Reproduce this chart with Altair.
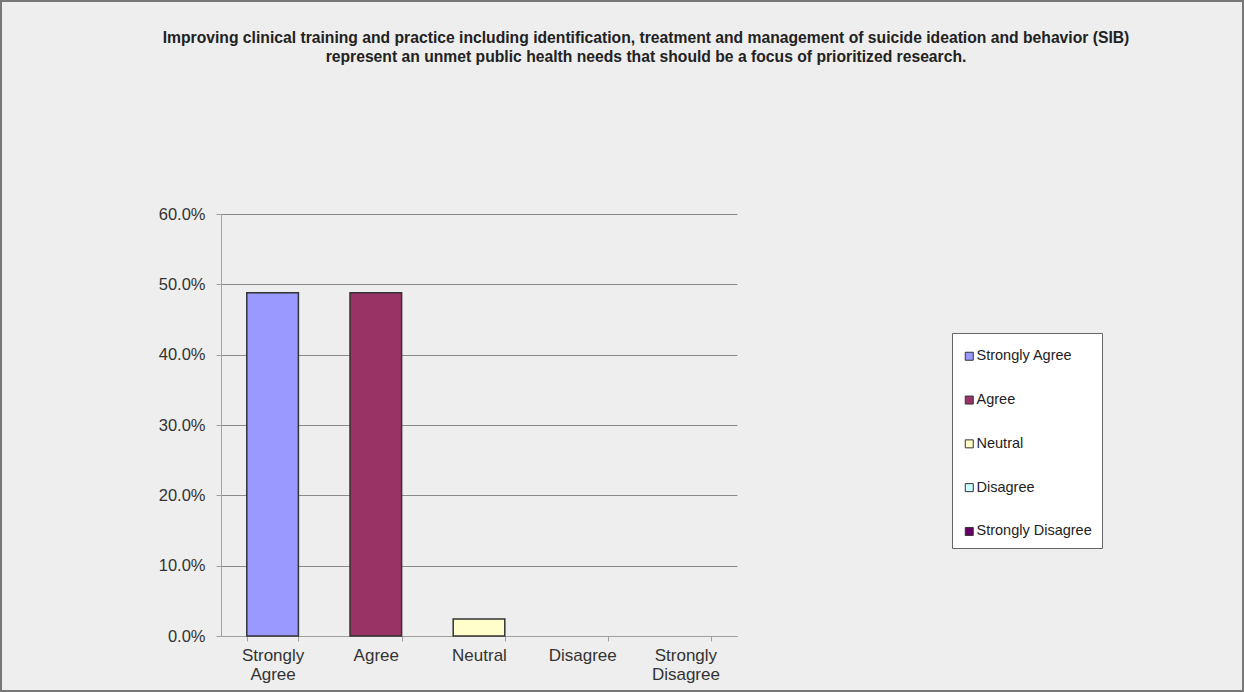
import altair as alt
import pandas as pd

# Survey responses (share of respondents)
categories = ["Strongly Agree", "Agree", "Neutral", "Disagree", "Strongly Disagree"]
shares = [0.488, 0.488, 0.024, 0.0, 0.0]
colors = ["#9999FF", "#993366", "#FFFFCC", "#CCFFFF", "#660066"]
y_ticks = [0.0, 0.1, 0.2, 0.3, 0.4, 0.5, 0.6]
title_lines = [
    "Improving clinical training and practice including identification, treatment and management of suicide ideation and behavior (SIB)",
    "represent an unmet public health needs that should be a focus of prioritized research.",
]

df = pd.DataFrame({"response": categories, "share": shares})
one = pd.DataFrame({"k": [0]})

FONT = "Liberation Sans"
PLOT_W, PLOT_H = 516, 422
LEFT, TOP = 221, 214
TOTAL_W, TOTAL_H = 1244, 692

bars = alt.Chart(df).mark_bar(strokeWidth=1.5).encode(
    x=alt.X(
        "response:N",
        sort=categories,
        scale=alt.Scale(paddingInner=0.5, paddingOuter=0.25),
        axis=alt.Axis(
            title=None,
            labelAngle=0,
            labelExpr="split(datum.label, ' ')",
            labelFont=FONT,
            labelFontSize=17,
            labelLineHeight=19,
            labelColor="#333333",
            labelPadding=6,
            tickBand="extent",
            tickSize=5,
            tickColor="#a0a0a0",
            domainColor="#a0a0a0",
            grid=False,
        ),
    ),
    y=alt.Y(
        "share:Q",
        scale=alt.Scale(domain=[0, 0.6], nice=False),
        axis=alt.Axis(
            title=None,
            values=y_ticks,
            format=".1%",
            labelFont=FONT,
            labelFontSize=16.5,
            labelColor="#333333",
            labelPadding=11,
            tickSize=5,
            tickColor="#a0a0a0",
            domainColor="#a0a0a0",
            gridColor="#8a8a8a",
            gridWidth=1,
        ),
    ),
    # empty categories get no outline
    stroke=alt.condition("datum.share > 0", alt.value("#333333"), alt.value("transparent")),
    color=alt.Color(
        "response:N",
        sort=categories,
        scale=alt.Scale(domain=categories, range=colors),
        legend=alt.Legend(
            title=" ",
            titleFontSize=6,
            titlePadding=0,
            orient="none",
            legendX=731,
            legendY=119,
            symbolType="square",
            symbolSize=64,
            symbolStrokeColor="#333333",
            symbolStrokeWidth=1,
            labelFont=FONT,
            labelFontSize=14.5,
            labelColor="#222222",
            labelOffset=0,
            rowPadding=28.8,
            padding=10,
            fillColor="#ffffff",
            strokeColor="#666666",
        ),
    ),
)

title = alt.Chart(one).mark_text(
    font=FONT,
    fontSize=15.7,
    fontWeight="bold",
    lineHeight=18.5,
    align="center",
    baseline="alphabetic",
    color="#222222",
).encode(
    x=alt.value(646 - LEFT),
    y=alt.value(43 - TOP),
    text=alt.value(title_lines),
)

frame = alt.Chart(one).mark_rect(fill=None, stroke="#777777", strokeWidth=2).encode(
    x=alt.value(-LEFT + 1),
    x2=alt.value(TOTAL_W - LEFT - 1),
    y=alt.value(-TOP + 1),
    y2=alt.value(TOTAL_H - TOP - 1),
)

chart = alt.layer(bars, title, frame).properties(
    width=PLOT_W,
    height=PLOT_H,
    autosize="none",
    padding={"left": LEFT, "top": TOP, "right": TOTAL_W - LEFT - PLOT_W, "bottom": TOTAL_H - TOP - PLOT_H},
    background="#eeeeee",
).configure_view(stroke=None)

chart.save("out.html", embed_options={"renderer": "svg", "actions": False})
